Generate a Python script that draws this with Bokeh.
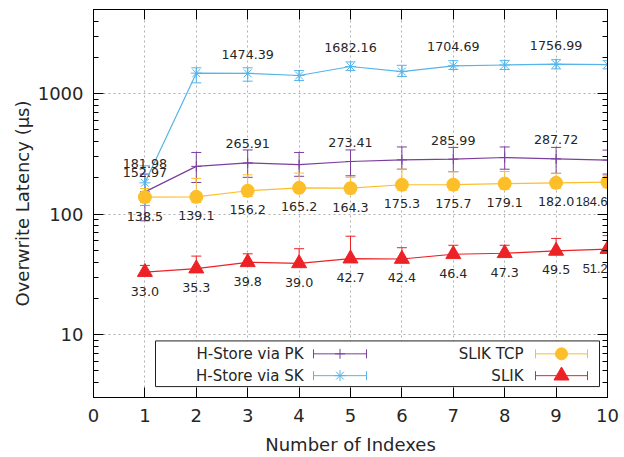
import numpy as np
from bokeh.plotting import figure
from bokeh.models import (ColumnDataSource, Label, LinearAxis, LogAxis,
                          FixedTicker, PrintfTickFormatter, CustomJSTickFormatter, Range1d)
from bokeh.core.properties import value
from bokeh.embed import file_html
from bokeh.resources import INLINE

# ---------------- data ----------------
indexes = [1, 2, 3, 4, 5, 6, 7, 8, 9, 10]

pk_latency = [152.97, 249, 265.91, 258, 273.41, 282, 285.99, 295, 287.72, 281]
pk_low = [88, 183, 202, 206, 208, 236, 225, 236, 218, 215]
pk_high = [215, 325, 341, 325, 341, 361, 358, 361, 358, 340]

sk_latency = [181.98, 1480, 1474.39, 1415, 1682.16, 1525, 1704.69, 1730, 1756.99, 1745]
sk_low = [118, 1230, 1270, 1285, 1555, 1390, 1587, 1587, 1608, 1608]
sk_high = [252, 1640, 1640, 1555, 1835, 1720, 1880, 1890, 1915, 1880]

tcp_latency = [138.5, 139.1, 156.2, 165.2, 164.3, 175.3, 175.7, 179.1, 182.0, 184.6]
tcp_low = [125, 125, 140, 151, 148, 158, 158, 161, 164, 166]
tcp_high = [163, 198, 212, 219, 202, 236, 225, 226, 218, 208]

slik_latency = [33.0, 35.3, 39.8, 39.0, 42.7, 42.4, 46.4, 47.3, 49.5, 51.2]
slik_low = [31.7, 33.9, 38.2, 37.4, 41.0, 40.7, 44.5, 45.4, 47.5, 49.2]
slik_high = [37.5, 44.8, 46.8, 51.6, 65.5, 52.6, 55.1, 55.1, 62.8, 66.3]

series_names = ["H-Store via PK", "H-Store via SK", "SLIK TCP", "SLIK"]
x_ticks = list(range(0, 11))
y_major = [10, 100, 1000]

# ---------------- styling ----------------
FONT = "DejaVu Sans"
EDGE_FONT = "Liberation Sans"
PURPLE = "#7b3f9e"
BLUE = "#56b4e9"
YELLOW = "#fcbf2a"
RED = "#ec2227"
TXT = "#262626"

X_LO, X_HI = 0, 10
Y_LO, Y_HI = 3, 5000

# frame placement on the canvas (pixels)
PAGE_L, PAGE_R, PAGE_T, PAGE_B = 93, 607, 9, 400
LOG_LO, LOG_HI = np.log10(Y_LO), np.log10(Y_HI)

p = figure(width=624, height=457, y_axis_type="log",
           x_range=Range1d(X_LO, X_HI), y_range=Range1d(Y_LO, Y_HI),
           output_backend="svg", toolbar_location=None,
           min_border_left=PAGE_L, min_border_right=624 - PAGE_R,
           min_border_top=PAGE_T, min_border_bottom=457 - PAGE_B)
p.background_fill_color = "white"
p.border_fill_color = "white"
p.outline_line_color = "black"
p.outline_line_width = 1

y_minor = [m * d for d in (1, 10, 100, 1000) for m in range(2, 10) if Y_LO <= m * d <= Y_HI]
yticker = FixedTicker(ticks=y_major, minor_ticks=y_minor)
xticker = FixedTicker(ticks=x_ticks)

p.xaxis.ticker = xticker
p.yaxis.ticker = yticker
p.yaxis.formatter = PrintfTickFormatter(format="%d")

def style_axis(ax, show_labels):
    ax.axis_line_color = "black"
    ax.axis_line_width = 1
    ax.major_tick_in = 10
    ax.major_tick_out = 0
    ax.minor_tick_in = 5
    ax.minor_tick_out = 0
    ax.major_tick_line_color = "black"
    ax.minor_tick_line_color = "black"
    ax.major_label_text_font = FONT
    ax.major_label_text_color = TXT
    ax.axis_label_text_font = FONT
    ax.axis_label_text_font_style = "normal"
    ax.axis_label_text_color = TXT
    if not show_labels:
        ax.formatter = CustomJSTickFormatter(code="return ''")
        ax.major_label_standoff = 0
        ax.axis_label_standoff = 0

xa = p.xaxis[0]
ya = p.yaxis[0]
style_axis(xa, True)
style_axis(ya, True)
xa.minor_tick_line_color = None
xa.major_label_text_font_size = "18px"
xa.major_label_standoff = 11
xa.axis_label = "Number of Indexes"
xa.axis_label_text_font_size = "18px"
xa.axis_label_standoff = 9
ya.major_label_text_font_size = "18px"
ya.major_label_standoff = 10
ya.axis_label = "Overwrite Latency (\u00b5s)"
ya.axis_label_text_font_size = "18px"
ya.axis_label_standoff = 2

top_ax = LinearAxis(ticker=xticker)
style_axis(top_ax, False)
top_ax.minor_tick_line_color = None
p.add_layout(top_ax, "above")
right_ax = LogAxis(ticker=yticker)
style_axis(right_ax, False)
p.add_layout(right_ax, "right")

p.xgrid.ticker = xticker
p.ygrid.ticker = FixedTicker(ticks=y_major)
for g in (p.xgrid[0], p.ygrid[0]):
    g.grid_line_color = "#b0b0b0"
    g.grid_line_dash = "2 3"
    g.grid_line_width = 1

# ---------------- series ----------------
def draw_series(y, lo, hi, color, marker, msize):
    src = ColumnDataSource(dict(x=indexes, y=y, lo=lo, hi=hi))
    p.segment(x0="x", y0="lo", x1="x", y1="hi", source=src, line_color=color, line_width=1)
    p.scatter(x="x", y="lo", source=src, marker="dash", size=10, line_color=color, line_width=1)
    p.scatter(x="x", y="hi", source=src, marker="dash", size=10, line_color=color, line_width=1)
    p.line(x="x", y="y", source=src, line_color=color, line_width=1.2)
    p.scatter(x="x", y="y", source=src, marker=marker, size=msize,
              line_color=color, fill_color=color, line_width=1)

draw_series(pk_latency, pk_low, pk_high, PURPLE, "cross", 10)
draw_series(sk_latency, sk_low, sk_high, BLUE, "asterisk", 11)
draw_series(tcp_latency, tcp_low, tcp_high, YELLOW, "circle", 13)
draw_series(slik_latency, slik_low, slik_high, RED, "triangle", 15)

# ---------------- value labels ----------------
def add_labels(xs, ys, fmt, offset):
    for xv, yv in zip(xs, ys):
        at_edge = (xv == X_HI)
        # labels on the right border are kept inside the frame so they are not clipped
        p.add_layout(Label(x=xv, y=yv, y_offset=offset, x_offset=0,
                           text=fmt.format(yv),
                           text_align="right" if at_edge else "center",
                           text_baseline="middle",
                           text_font=EDGE_FONT if at_edge else FONT,
                           text_font_size="12.7px", text_color=TXT))

add_labels(indexes[0::2], pk_latency[0::2], "{:.2f}", 19)
add_labels(indexes[0::2], sk_latency[0::2], "{:.2f}", 19)
add_labels(indexes, tcp_latency, "{:.1f}", -19)
add_labels(indexes, slik_latency, "{:.1f}", -19)

# ---------------- legend (drawn by hand, gnuplot style) ----------------
def px_x(px):
    return X_LO + (px - PAGE_L) / (PAGE_R - PAGE_L) * (X_HI - X_LO)

def py_y(py):
    return 10 ** (LOG_HI - (py - PAGE_T) / (PAGE_B - PAGE_T) * (LOG_HI - LOG_LO))

p.quad(left=[px_x(155)], right=[px_x(599)], bottom=[py_y(389)], top=[py_y(343)],
       fill_color="white", line_color="#222222", line_width=1)

legend_rows = [
    (series_names[0], PURPLE, "cross", 10, 303, 313, 366, 356),
    (series_names[1], BLUE, "asterisk", 11, 303, 313, 366, 378),
    (series_names[2], YELLOW, "circle", 12, 523, 535, 587, 356),
    (series_names[3], RED, "triangle", 15, 523, 535, 587, 378),
]
for name, color, marker, msize, tr, s0, s1, row in legend_rows:
    yy = py_y(row)
    p.text(x=[px_x(tr)], y=[yy], text=[name], text_align="right", text_baseline="middle",
           text_font=value(FONT), text_font_size="15px", text_color=TXT)
    p.segment(x0=[px_x(s0)], y0=[yy], x1=[px_x(s1)], y1=[yy], line_color=color, line_width=1)
    p.scatter(x=[px_x(s0), px_x(s1)], y=[yy, yy], marker="dash", angle=np.pi / 2,
              size=9, line_color=color, line_width=1)
    p.scatter(x=[px_x((s0 + s1) / 2)], y=[yy], marker=marker, size=msize,
              line_color=color, fill_color=color, line_width=1)

open("out.html", "w").write(file_html(p, INLINE))
